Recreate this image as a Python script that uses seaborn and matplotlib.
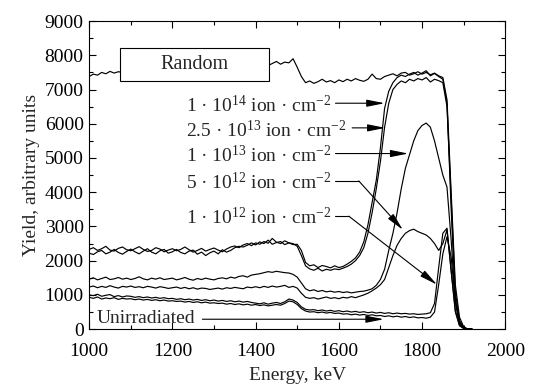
import numpy as np
import pandas as pd
import matplotlib
matplotlib.use("Agg")
import matplotlib.pyplot as plt
import seaborn as sns
from matplotlib.patches import Rectangle
from matplotlib.ticker import MultipleLocator

# energy grid, keV (10 keV steps)
energy = list(range(1000, 1930, 10))

# spectra
random_spec = [7380, 7450, 7420, 7500, 7460, 7530, 7480, 7520, 7500, 7550,
               7560, 7600, 7580, 7620, 7600, 7650, 7630, 7660, 7640, 7680,
               7650, 7700, 7680, 7720, 7690, 7700, 7730, 7710, 7680, 7720,
               7700, 7740, 7710, 7750, 7730, 7700, 7760, 7720, 7740, 7700,
               7720, 7680, 7750, 7700, 7760, 7820, 7740, 7800, 7780, 7900,
               7650, 7380, 7200, 7250, 7180, 7230, 7300, 7220, 7260, 7200,
               7280, 7230, 7300, 7250, 7320, 7270, 7240, 7300, 7450, 7320,
               7300, 7380, 7420, 7460, 7400, 7480, 7500, 7420, 7460, 7520,
               7450, 7500, 7430, 7480, 7400, 7350, 6700, 4000, 1300, 350,
               70, 0, 0]
dose_1e14 = [2330, 2380, 2300, 2350, 2420, 2310, 2280, 2360, 2400, 2320,
             2290, 2350, 2410, 2330, 2270, 2300, 2380, 2340, 2260, 2310,
             2350, 2290, 2330, 2400, 2320, 2250, 2300, 2360, 2280, 2330,
             2370, 2310, 2260, 2340, 2400, 2430, 2380, 2460, 2500, 2440,
             2520, 2480, 2560, 2510, 2650, 2540, 2500, 2580, 2520, 2470,
             2480, 2300, 1950, 1850, 1880, 1800, 1860, 1830, 1790, 1850,
             1800, 1830, 1900, 1980, 2080, 2250, 2550, 3050, 3700, 4350,
             5300, 6450, 6950, 7200, 7350, 7420, 7380, 7450, 7500, 7420,
             7480, 7550, 7400, 7470, 7380, 7300, 6600, 3500, 900, 200,
             50, 0, 0]
dose_25e13 = [2220, 2180, 2260, 2300, 2200, 2250, 2330, 2240, 2190, 2270,
              2340, 2260, 2200, 2280, 2350, 2250, 2200, 2290, 2330, 2220,
              2260, 2330, 2240, 2200, 2280, 2310, 2190, 2250, 2150, 2230,
              2280, 2200, 2320, 2250, 2300, 2380, 2420, 2400, 2450, 2520,
              2460, 2550, 2500, 2600, 2480, 2530, 2560, 2470, 2520, 2500,
              2420, 2150, 1850, 1760, 1720, 1780, 1700, 1750, 1720, 1760,
              1740, 1780, 1830, 1900, 2000, 2150, 2380, 2800, 3400, 4100,
              4900, 5900, 6600, 7000, 7150, 7250, 7200, 7300, 7250, 7320,
              7280, 7350, 7220, 7300, 7260, 7200, 6500, 3800, 1100, 250,
              60, 0, 0]
dose_1e13 = [1460, 1500, 1440, 1480, 1520, 1450, 1470, 1510, 1460, 1490,
             1450, 1480, 1530, 1470, 1440, 1490, 1460, 1500, 1450, 1470,
             1490, 1440, 1470, 1510, 1460, 1430, 1480, 1450, 1490, 1460,
             1440, 1480, 1500, 1470, 1520, 1490, 1540, 1560, 1520, 1580,
             1600, 1620, 1650, 1680, 1660, 1690, 1670, 1650, 1640, 1600,
             1520, 1350, 1180, 1120, 1150, 1100, 1130, 1090, 1110, 1080,
             1100, 1070, 1090, 1060, 1080, 1100, 1110, 1140, 1180, 1280,
             1450, 1750, 2300, 2800, 3400, 4100, 4700, 5100, 5500, 5800,
             5950, 6020, 5900, 5500, 5000, 4500, 4150, 2600, 800, 150,
             30, 0, 0]
dose_5e12 = [1230, 1260, 1210, 1250, 1220, 1270, 1230, 1200, 1250, 1230,
             1260, 1220, 1240, 1210, 1250, 1230, 1200, 1240, 1220, 1190,
             1210, 1230, 1190, 1220, 1180, 1210, 1170, 1200, 1190, 1160,
             1180, 1200, 1170, 1210, 1190, 1220, 1200, 1180, 1230, 1210,
             1240, 1210, 1250, 1220, 1260, 1230, 1250, 1280, 1220, 1250,
             1200, 1050, 930, 900, 920, 880, 910, 940, 900, 920,
             890, 930, 910, 950, 920, 960, 1000, 1050, 1120, 1200,
             1300, 1450, 1800, 2150, 2450, 2650, 2800, 2880, 2920, 2850,
             2800, 2750, 2650, 2500, 2300, 2500, 2900, 1700, 500, 100,
             20, 0, 0]
dose_1e12 = [1000, 980, 1020, 960, 990, 1010, 950, 980, 940, 970,
             960, 930, 950, 920, 940, 910, 930, 900, 920, 890,
             900, 870, 890, 860, 880, 850, 870, 840, 860, 830,
             850, 820, 840, 810, 830, 800, 820, 790, 810, 780,
             760, 740, 770, 730, 760, 780, 750, 800, 880, 850,
             780, 650, 580, 560, 570, 540, 560, 530, 550, 520,
             540, 510, 530, 500, 520, 490, 510, 480, 500, 470,
             490, 460, 480, 450, 470, 450, 460, 440, 450, 430,
             440, 450, 480, 750, 1800, 2800, 2950, 1700, 550, 120,
             20, 0, 0]
unirradiated = [930, 900, 940, 880, 910, 890, 920, 870, 900, 880,
                890, 860, 880, 850, 870, 840, 860, 830, 850, 820,
                830, 810, 820, 790, 810, 780, 800, 770, 790, 760,
                770, 750, 760, 730, 750, 720, 740, 710, 730, 700,
                720, 690, 710, 680, 700, 720, 700, 750, 820, 800,
                720, 600, 530, 500, 510, 480, 500, 470, 490, 460,
                470, 440, 450, 420, 440, 410, 430, 400, 420, 390,
                400, 370, 390, 360, 380, 350, 370, 340, 360, 330,
                340, 320, 350, 500, 1300, 2200, 2700, 2100, 800, 200,
                30, 0, 0]

series = {
    "Random": random_spec,
    "1e14": dose_1e14,
    "2.5e13": dose_25e13,
    "1e13": dose_1e13,
    "5e12": dose_5e12,
    "1e12": dose_1e12,
    "Unirradiated": unirradiated,
}

df = pd.DataFrame({"energy": energy, **series})
df_long = df.melt(id_vars="energy", var_name="sample", value_name="yield")

sns.set_theme(style="ticks")
plt.rcParams["font.family"] = ["Liberation Serif", "DejaVu Serif"]
plt.rcParams["mathtext.fontset"] = "custom"
plt.rcParams["mathtext.rm"] = "Liberation Serif"
plt.rcParams["mathtext.it"] = "Liberation Serif:italic"
plt.rcParams["axes.unicode_minus"] = True

FS = 14

fig = plt.figure(figsize=(5.54, 3.90), dpi=100)
ax = fig.add_axes([0.161, 0.156, 0.751, 0.790])

sns.lineplot(data=df_long, x="energy", y="yield", units="sample",
             estimator=None, color="black", linewidth=0.85, ax=ax)

ax.set_xlim(1000, 2000)
ax.set_ylim(0, 9000)
ax.xaxis.set_major_locator(MultipleLocator(200))
ax.xaxis.set_minor_locator(MultipleLocator(100))
ax.yaxis.set_major_locator(MultipleLocator(1000))
ax.yaxis.set_minor_locator(MultipleLocator(500))
ax.tick_params(which="both", direction="in", top=True, right=True,
               labelsize=FS, colors="black", width=0.8)
ax.tick_params(which="major", length=5)
ax.tick_params(which="minor", length=3)
ax.tick_params(axis="x", pad=10)
ax.tick_params(axis="y", pad=4)
for sp in ax.spines.values():
    sp.set_linewidth(0.8)
    sp.set_color("black")
ax.set_xlabel("Energy, keV", fontsize=FS, labelpad=5)
ax.set_ylabel("Yield, arbitrary units", fontsize=FS, labelpad=3)

# "Random" box
ax.add_patch(Rectangle((1074, 7250), 357, 966, facecolor="white",
                       edgecolor="black", linewidth=0.8, zorder=3))
ax.text(1252, 7740, "Random", ha="center", va="center", fontsize=FS + 0.5,
        zorder=4)

arrow = dict(arrowstyle="-|>,head_length=0.9,head_width=0.18", color="black",
             lw=0.8, shrinkA=0, shrinkB=0)
tx = 1232
labels = [
    (r"1 · 10$^{14}$ ion · cm$^{-2}$", 6520),
    (r"2.5 · 10$^{13}$ ion · cm$^{-2}$", 5800),
    (r"1 · 10$^{13}$ ion · cm$^{-2}$", 5070),
    (r"5 · 10$^{12}$ ion · cm$^{-2}$", 4280),
    (r"1 · 10$^{12}$ ion · cm$^{-2}$", 3250),
]
for txt, yy in labels:
    ax.text(tx, yy, txt, ha="left", va="center", fontsize=FS, zorder=4)

ax.annotate("", xy=(1710, 6600), xytext=(1592, 6600), arrowprops=arrow)
ax.annotate("", xy=(1712, 5880), xytext=(1632, 5880), arrowprops=arrow)
ax.annotate("", xy=(1767, 5130), xytext=(1592, 5130), arrowprops=arrow)
ax.plot([1592, 1648], [4330, 4330], color="black", lw=0.8)
ax.annotate("", xy=(1754, 2900), xytext=(1648, 4330), arrowprops=arrow)
ax.plot([1592, 1624], [3300, 3300], color="black", lw=0.8)
ax.annotate("", xy=(1836, 1300), xytext=(1624, 3300), arrowprops=arrow)

ax.text(1018, 320, "Unirradiated", ha="left", va="center", fontsize=FS,
        zorder=4)
ax.annotate("", xy=(1708, 290), xytext=(1272, 290), arrowprops=arrow)

fig.savefig("out.png", dpi=100)
